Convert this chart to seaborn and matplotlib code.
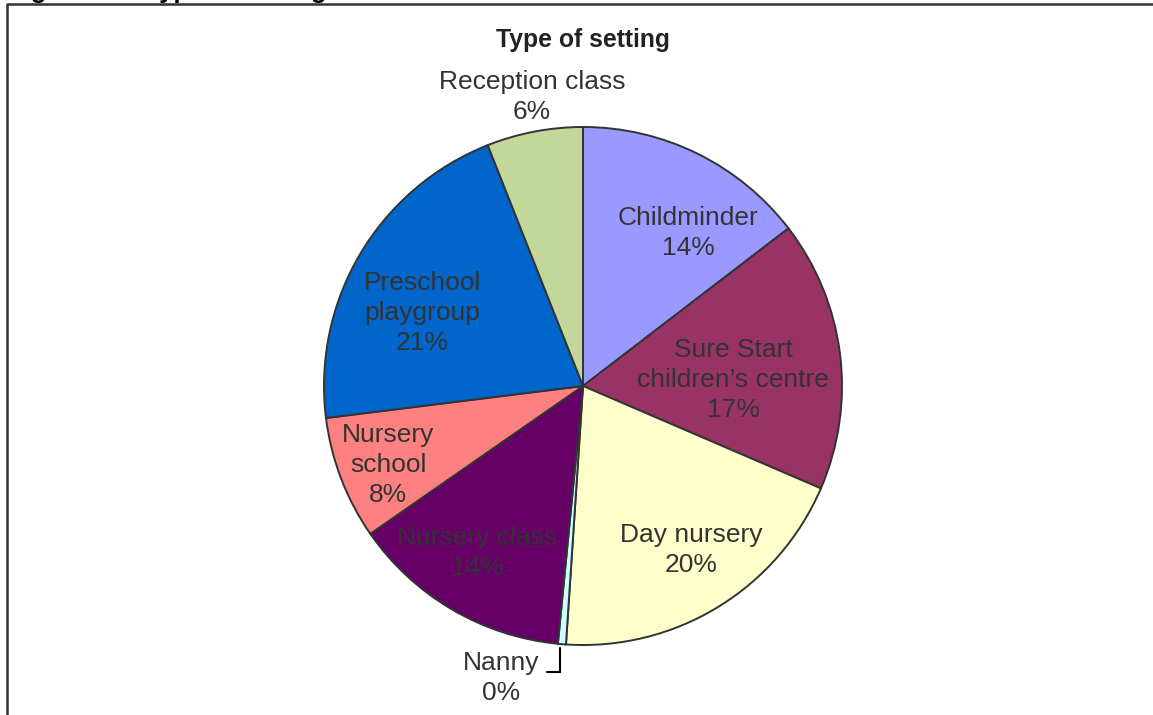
import matplotlib
matplotlib.use("Agg")
import matplotlib.pyplot as plt
import seaborn as sns

# ---- data ----
categories = ["Childminder", "Sure Start\nchildren\u2019s centre", "Day nursery", "Nanny",
              "Nursery class", "Nursery\nschool", "Preschool\nplaygroup", "Reception class"]
shares = [14.6, 16.9, 19.6, 0.5, 13.8, 7.7, 21.0, 6.0]
pct_labels = ["14%", "17%", "20%", "0%", "14%", "8%", "21%", "6%"]
colors = ["#9999FF", "#993366", "#FFFFCC", "#CCFFFF", "#660066", "#FF8080", "#0066CC", "#C4D79B"]
title = "Type of setting"
caption = "Figure 4.1: Type of setting"

sns.set_theme(style="white")
plt.rcParams["font.family"] = ["Liberation Sans", "DejaVu Sans"]

W, H = 1153, 715
fig = plt.figure(figsize=(W / 100, H / 100), dpi=100)
ax = fig.add_axes([0, 0, 1, 1])

def P(x, y):
    """pixel (top-left origin) -> data coords"""
    return x, H - y

cx, cy = P(583, 386)
ax.pie(shares, colors=colors, startangle=90, counterclock=False,
       center=(cx, cy), radius=259,
       wedgeprops=dict(edgecolor="#333333", linewidth=1.4))
ax.set_xlim(0, W)
ax.set_ylim(0, H)
ax.set_aspect("equal")
ax.axis("off")

txt = "#333333"
fs = 19
label_pos = [(688, 233), (733, 380), (691, 550), (501, 678),
             (477, 553), (388, 465), (422, 313), (532, 97)]
for name, pct, (px, py) in zip(categories, pct_labels, label_pos):
    x, y = P(px, py)
    ax.text(x, y, f"{name}\n{pct}", ha="center", va="center", fontsize=fs,
            color=txt, linespacing=1.32)

# leader line for Nanny
lx = [P(560, 648)[0], P(560, 672)[0], P(547, 672)[0]]
ly = [P(560, 648)[1], P(560, 672)[1], P(547, 672)[1]]
ax.plot(lx, ly, color="black", lw=1.5, solid_joinstyle="miter")

# chart title
tx, ty = P(583, 40)
ax.text(tx, ty, title, ha="center", va="center", fontsize=17.8, fontweight="bold", color="#222222")

# chart frame (left and top visible)
fx = [P(7, 715)[0], P(7, 4)[0], P(1153, 4)[0]]
fy = [P(7, 716)[1], P(7, 4)[1], P(1153, 4)[1]]
ax.plot(fx, fy, color="#333333", lw=1.8, clip_on=False)

# caption cut off at the top edge (as in the reference)
cx0, cy0 = P(8, -2)
ax.text(cx0, cy0, caption, ha="left", va="baseline", fontsize=18.5,
        fontweight="bold", color="black", clip_on=False)

fig.savefig("out.png", dpi=100)
